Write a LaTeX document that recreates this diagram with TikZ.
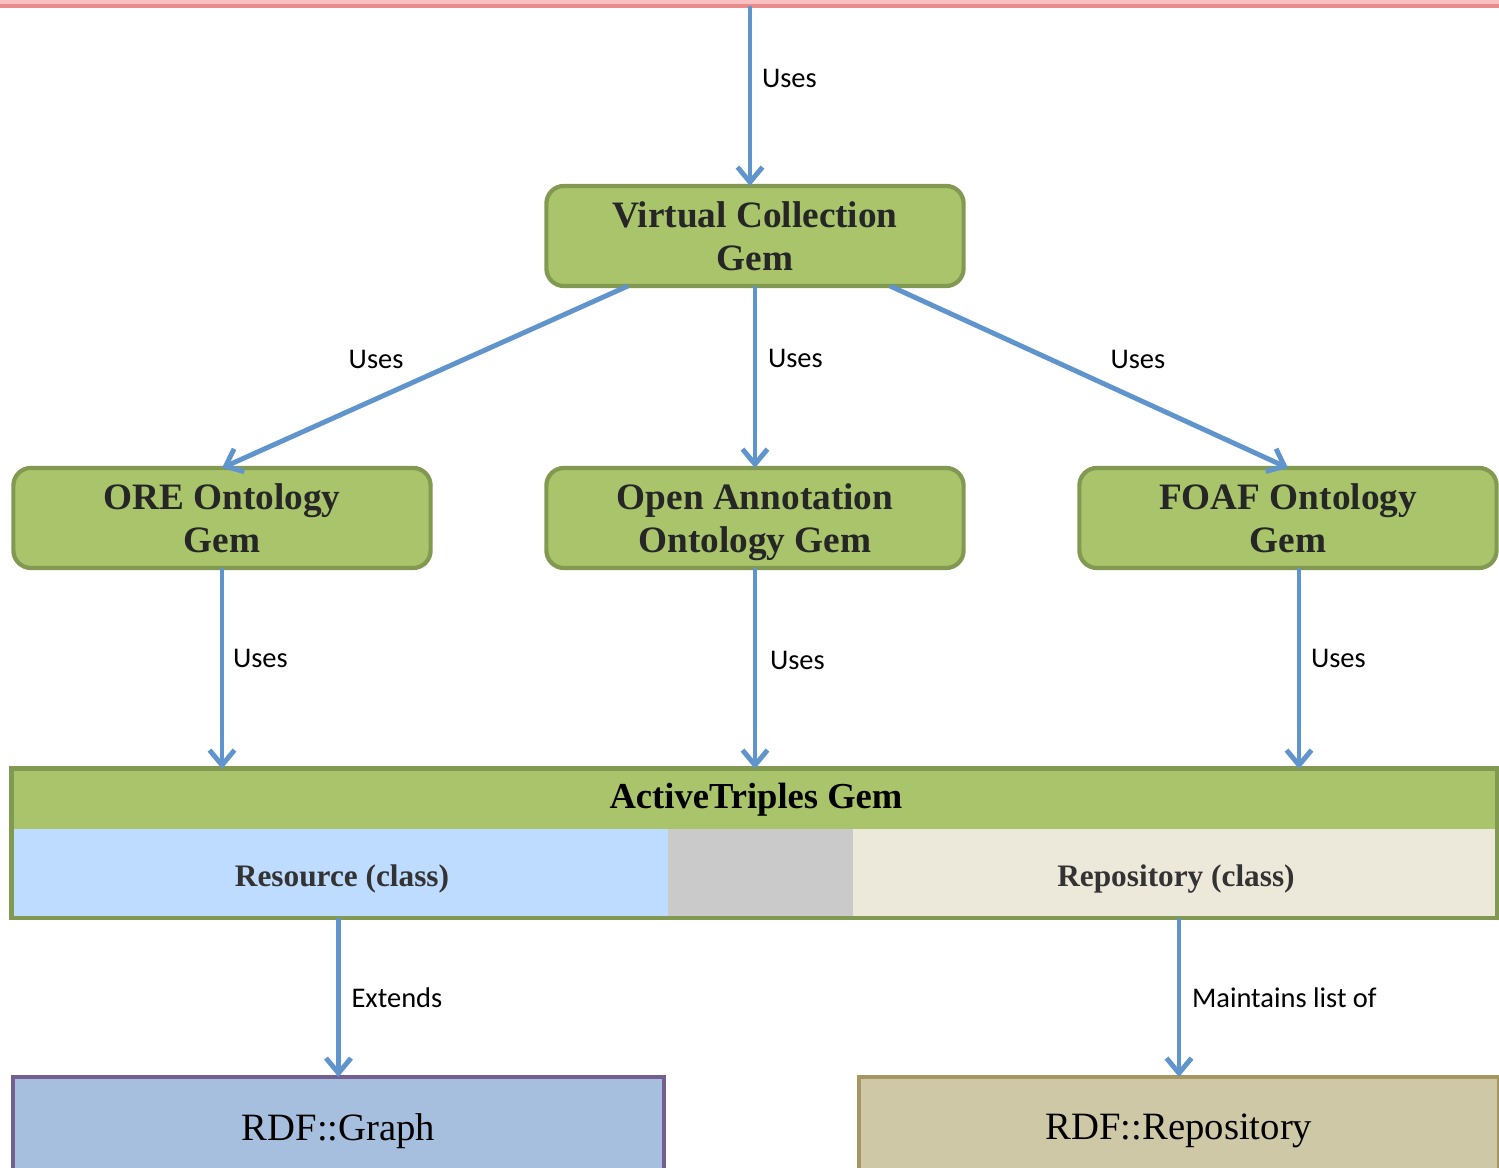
\documentclass[tikz,border=0pt]{standalone}
\usepackage{fontspec}
\setmainfont{Liberation Serif}
\newfontfamily\labelfont{Carlito}
\usetikzlibrary{arrows.meta}
\definecolor{gemfill}{RGB}{170,196,108}
\definecolor{gemline}{RGB}{130,153,82}
\definecolor{usesblue}{RGB}{96,148,204}
\definecolor{appfill}{RGB}{250,192,192}
\definecolor{appline}{RGB}{232,140,140}
\definecolor{resfill}{RGB}{189,220,255}
\definecolor{midgray}{RGB}{202,202,202}
\definecolor{repofill}{RGB}{237,233,218}
\definecolor{graphfill}{RGB}{166,191,222}
\definecolor{graphline}{RGB}{116,96,144}
\definecolor{rdfrepofill}{RGB}{206,200,166}
\definecolor{rdfrepoline}{RGB}{166,151,96}

\begin{document}
\begin{tikzpicture}[x=0.01cm, y=-0.01cm, line width=1.4pt,
    every node/.append style={inner sep=0pt, outer sep=0pt},
    gem/.style={draw=gemline, fill=gemfill, line width=1.2pt, rounded corners=5pt,
      minimum width=4.17cm, minimum height=1.0cm, align=center, text depth=0pt,
      font=\fontsize{10.6}{12}\selectfont\bfseries, text=black!85},
    uses/.style={draw=usesblue, -{Straight Barb[length=1.5mm,width=2.5mm]}},
    lbl/.style={font=\labelfont\fontsize{8.1}{10}\selectfont, text=black}]
  \tikzstyle{part} = [font=\fontsize{8.9}{10}\selectfont\bfseries, text=black!80]
  \tikzstyle{rdf} = [line width=1.2pt, minimum height=1.0cm, text depth=0pt, font=\fontsize{11}{12}\selectfont]
  \useasboundingbox (0,0) rectangle (1499,1168);

  \node[draw=appline, fill=appfill, line width=1.2pt, minimum width=15.3cm, minimum height=0.7cm] (app) at (750,-29) {};

  \node[gem] (vc) at (755,236) {Virtual Collection\\Gem};
  \node[gem] (ore) at (222,518) {ORE Ontology\\Gem};
  \node[gem] (oa) at (755,518) {Open Annotation\\Ontology Gem};
  \node[gem] (foaf) at (1288,518) {FOAF Ontology\\Gem};

  \fill[resfill] (14,829) rectangle (668,916);
  \fill[midgray] (668,829) rectangle (853,916);
  \fill[repofill] (853,829) rectangle (1497,916);
  \fill[gemfill] (14,770) rectangle (1497,829);
  \node[part] (res) at (342,879) {Resource (class)};
  \node[part] (repo) at (1176,879) {Repository (class)};
  \node[font=\fontsize{10.4}{12}\selectfont\bfseries] (atg) at (756,800) {ActiveTriples Gem};
  \node[draw=gemline, line width=1.4pt, minimum width=14.86cm, minimum height=1.49cm] (atbox) at (754.5,843.5) {};

  \node[rdf, draw=graphline, fill=graphfill, minimum width=6.51cm] (graph) at (338.5,1127) {RDF::Graph};
  \node[rdf, draw=rdfrepoline, fill=rdfrepofill, minimum width=6.40cm] (rdfrepo) at (1179,1127) {RDF::Repository};

  \draw[uses] (app.south) -- (app.south |- vc.north) node[lbl, pos=0.4, anchor=west, xshift=0.12cm] {Uses};
  \draw[uses] ([xshift=-1.27cm]vc.south) -- (ore.north) node[lbl, pos=0.553, anchor=south east, yshift=0.18cm] {Uses};
  \draw[uses] (vc.south) -- (oa.north) node[lbl, pos=0.4, anchor=west, xshift=0.13cm] {Uses};
  \draw[uses] ([xshift=1.35cm]vc.south) -- (foaf.north) node[lbl, pos=0.554, anchor=south west, yshift=0.18cm] {Uses};

  \draw[uses] (ore.south) -- (ore.south |- atbox.north) node[lbl, pos=0.45, anchor=west, xshift=0.11cm] {Uses};
  \draw[uses] (oa.south) -- (oa.south |- atbox.north) node[lbl, pos=0.46, anchor=west, xshift=0.15cm] {Uses};
  \draw[uses] ([xshift=0.11cm]foaf.south) -- ([xshift=0.11cm]foaf.south |- atbox.north) node[lbl, pos=0.45, anchor=west, xshift=0.12cm] {Uses};

  \draw[uses] (graph.north |- atbox.south) -- (graph.north) node[lbl, midway, anchor=west, xshift=0.13cm] {Extends};
  \draw[uses] (rdfrepo.north |- atbox.south) -- (rdfrepo.north) node[lbl, midway, anchor=west, xshift=0.13cm] {Maintains list of};
\end{tikzpicture}
\end{document}
